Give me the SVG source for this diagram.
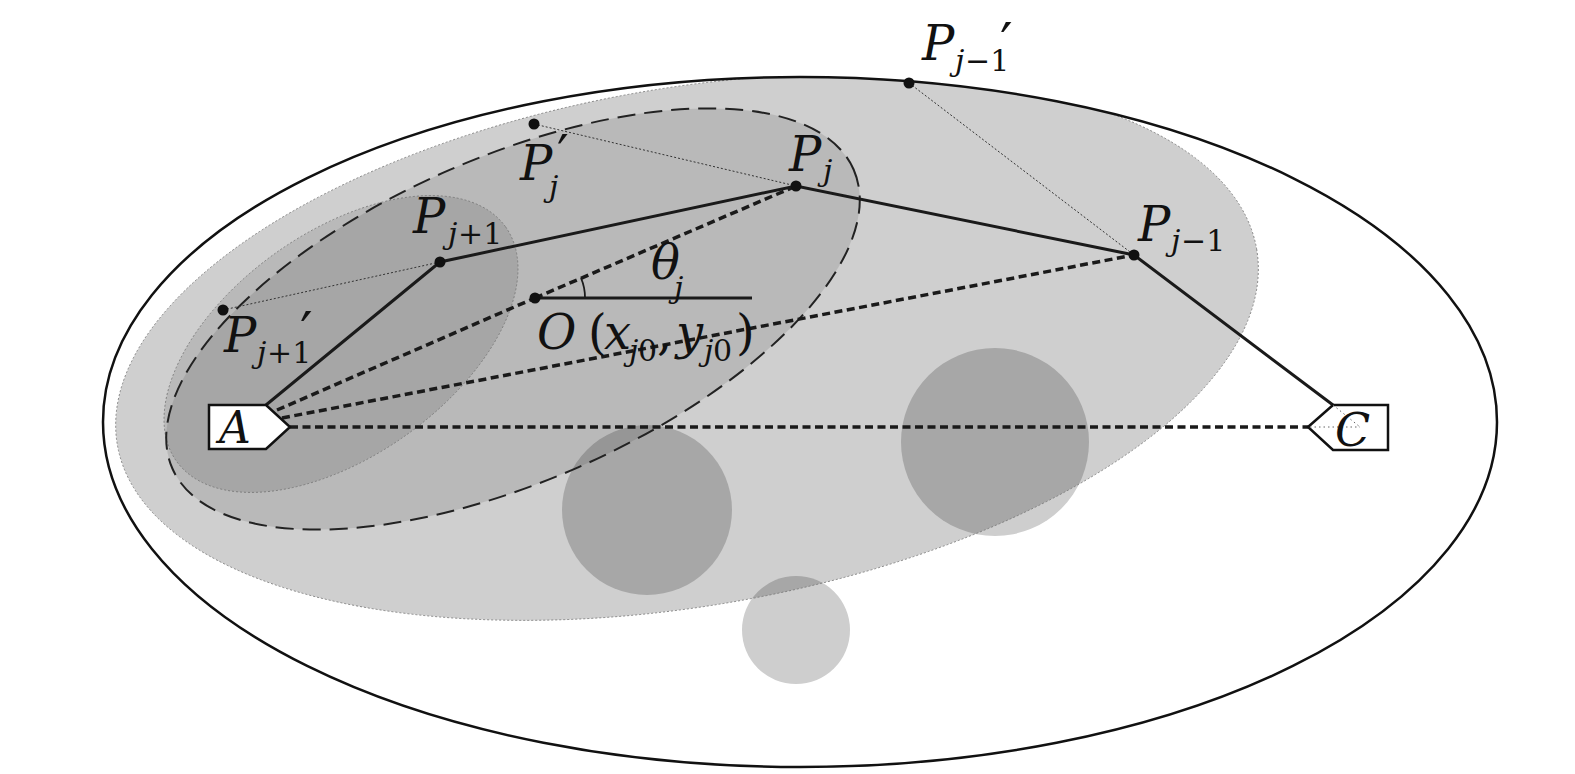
<svg xmlns="http://www.w3.org/2000/svg" width="1575" height="774" viewBox="0 0 1575 774">
<style>
.it{font-family:'DejaVu Serif',serif;font-style:italic;fill:#111;}
.rm{font-family:'DejaVu Serif',serif;font-style:normal;fill:#111;}
.dash{fill:none;stroke:#1a1a1a;stroke-width:3.5;stroke-dasharray:8 4.5;}
.solid{fill:none;stroke:#1a1a1a;stroke-width:3;}
.thin{fill:none;stroke:#333;stroke-width:1;stroke-dasharray:2 2;}
.dot{fill:#111;}
.box{fill:#fff;stroke:#111;stroke-width:2.5;}
.obst{fill:#cecece;}
</style>
<defs>
<clipPath id="outerClip"><ellipse cx="800" cy="422" rx="697" ry="345"/></clipPath>
</defs>
<rect width="1575" height="774" fill="#fff"/>
<g id="obstacles">
<circle class="obst" cx="647" cy="510" r="85"/>
<circle class="obst" cx="995" cy="442" r="94"/>
<circle class="obst" cx="796" cy="630" r="54"/>
</g>
<g id="regions">
<g clip-path="url(#outerClip)">
<ellipse id="region-big" cx="687" cy="347" rx="578" ry="259" transform="rotate(-9.75 687 347)" fill="#000" fill-opacity="0.19" stroke="#777" stroke-width="0.8" stroke-dasharray="2 2"/>
</g>
<ellipse id="region-mid" cx="513" cy="319" rx="372" ry="162" transform="rotate(-23.7 513 319)" fill="#000" fill-opacity="0.1"/>
<ellipse id="region-small" cx="341" cy="344" rx="202" ry="112" transform="rotate(-35.4 341 344)" fill="#000" fill-opacity="0.1" stroke="#777" stroke-width="0.8" stroke-dasharray="2 2"/>
<ellipse cx="513" cy="319" rx="372" ry="162" transform="rotate(-23.7 513 319)" fill="none" stroke="#222" stroke-width="2" stroke-dasharray="18 9"/>
<ellipse id="region-outer" cx="800" cy="422" rx="697" ry="345" fill="none" stroke="#111" stroke-width="2.5"/>
</g>
<g id="connectors">
<line class="thin" x1="223" y1="310" x2="440" y2="262"/>
<line class="thin" x1="534" y1="124" x2="796" y2="186"/>
<line class="thin" x1="909" y1="83" x2="1134" y2="255"/>
<line class="dash" x1="290" y1="427" x2="1308" y2="427"/>
<line class="dash" x1="277" y1="410" x2="535" y2="298"/>
<line class="dash" x1="282" y1="418" x2="1134" y2="255"/>
<line class="dash" x1="535" y1="298" x2="796" y2="186"/>
<polyline class="solid" points="266,405 440,262 796,186 1134,255 1333,405"/>
<line x1="535" y1="298" x2="752" y2="298" stroke="#1a1a1a" stroke-width="3"/>
<path d="M585,298 A50,50 0 0 0 581,278" fill="none" stroke="#1a1a1a" stroke-width="1.8"/>
</g>
<g id="node-A">
<path class="box" d="M209,405 L266,405 L290,427 L266,449 L209,449 Z"/>
<text class="it" x="219" y="443" font-size="44">A</text>
</g>
<g id="node-C">
<path class="box" d="M1308,427 L1333,405 L1388,405 L1388,450 L1333,450 Z"/>
<line x1="1333" y1="405" x2="1360" y2="427" stroke="#666" stroke-width="1" stroke-dasharray="1.5 3"/>
<line x1="1310" y1="427" x2="1360" y2="427" stroke="#666" stroke-width="1" stroke-dasharray="1.5 3"/>
<text class="it" x="1335" y="446" font-size="46">C</text>
</g>
<g id="node-Pj1">
<circle class="dot" cx="440" cy="262" r="5.5"/>
<text class="it" x="413" y="233" font-size="48">P</text>
<text class="it" x="448" y="244" font-size="30">j</text>
<text class="rm" x="458" y="244" font-size="30">+1</text>
</g>
<g id="node-Pj">
<circle class="dot" cx="796" cy="186" r="5.5"/>
<text class="it" x="789" y="171" font-size="48">P</text>
<text class="it" x="823" y="181" font-size="30">j</text>
</g>
<g id="node-Pjm1">
<circle class="dot" cx="1134" cy="255" r="5.5"/>
<text class="it" x="1138" y="241" font-size="48">P</text>
<text class="it" x="1171" y="251" font-size="30">j</text>
<text class="rm" x="1181" y="251" font-size="30">−1</text>
</g>
<g id="node-Pj1p">
<circle class="dot" cx="223" cy="310" r="5.5"/>
<text class="it" x="224" y="352" font-size="48">P</text>
<text class="it" x="257" y="363" font-size="30">j</text>
<text class="rm" x="267" y="363" font-size="30">+1</text>
<text class="rm" x="300" y="352" font-size="56">′</text>
</g>
<g id="node-Pjp">
<circle class="dot" cx="534" cy="124" r="5.5"/>
<text class="it" x="520" y="180" font-size="48">P</text>
<text class="rm" x="557" y="172" font-size="52">′</text>
<text class="it" x="549" y="197" font-size="30">j</text>
</g>
<g id="node-Pjm1p">
<circle class="dot" cx="909" cy="83" r="5.5"/>
<text class="it" x="922" y="60" font-size="48">P</text>
<text class="it" x="955" y="71" font-size="30">j</text>
<text class="rm" x="965" y="71" font-size="30">−1</text>
<text class="rm" x="1000" y="63" font-size="56">′</text>
</g>
<g id="node-O">
<circle class="dot" cx="535" cy="298" r="5.5"/>
<text class="it" x="537" y="349" font-size="48">O</text>
<text class="rm" x="588" y="349" font-size="48">(</text>
<text class="it" x="604" y="349" font-size="48">x</text>
<text class="it" x="629" y="361" font-size="30">j</text>
<text class="rm" x="638" y="361" font-size="30">0</text>
<text class="rm" x="657" y="349" font-size="48">,</text>
<text class="it" x="676" y="349" font-size="48">y</text>
<text class="it" x="704" y="361" font-size="30">j</text>
<text class="rm" x="713" y="361" font-size="30">0</text>
<text class="rm" x="736" y="349" font-size="48">)</text>
</g>
<g id="label-theta">
<text class="it" x="651" y="279" font-size="48">θ</text>
<text class="it" x="674" y="298" font-size="30">j</text>
</g>
</svg>
